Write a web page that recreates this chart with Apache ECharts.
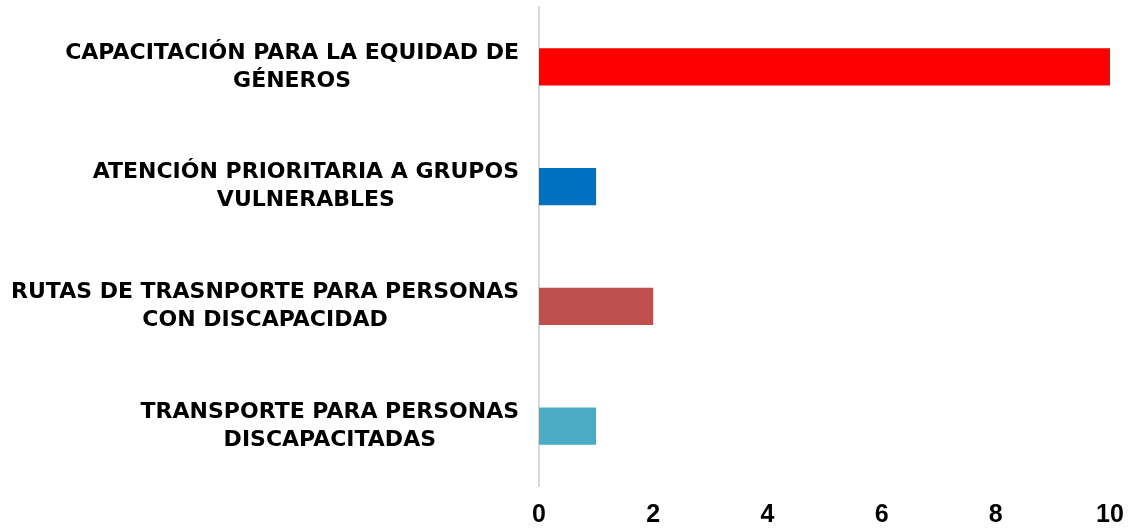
<!DOCTYPE html>
<html>
<head>
<meta charset="utf-8">
<script src="https://cdn.jsdelivr.net/npm/echarts@6/dist/echarts.min.js"></script>
<style>
  html, body { margin: 0; padding: 0; background: #fff; }
  #chart { width: 1134px; height: 529px; }
</style>
</head>
<body>
<div id="chart"></div>
<script>
// categorias de arriba hacia abajo
const categories = [
  'CAPACITACIÓN PARA LA EQUIDAD DE\nGÉNEROS',
  'ATENCIÓN PRIORITARIA A GRUPOS\nVULNERABLES',
  'RUTAS DE TRASNPORTE PARA PERSONAS\nCON DISCAPACIDAD',
  'TRANSPORTE PARA PERSONAS\nDISCAPACITADAS'
];
const values = [10, 1, 2, 1];
const barColors = ['#FF0000', '#0070C0', '#C0504D', '#4BACC6'];

const chart = echarts.init(document.getElementById('chart'));

const labelFont = {
  color: '#000',
  fontFamily: '"DejaVu Sans", sans-serif',
  fontWeight: 'bold',
  fontSize: 22,
  lineHeight: 28
};

chart.setOption({
  animation: false,
  grid: { left: 539, right: 24, top: 7, bottom: 43, containLabel: false },
  xAxis: {
    type: 'value',
    min: 0,
    max: 10,
    interval: 2,
    axisLine: { show: false },
    axisTick: { show: false },
    splitLine: { show: false },
    axisLabel: {
      margin: 17,
      color: '#000',
      fontFamily: '"Liberation Sans Narrow", "Liberation Sans", Arial, sans-serif',
      fontWeight: 'bold',
      fontSize: 25
    }
  },
  yAxis: {
    type: 'category',
    inverse: true,
    data: categories,
    axisLine: { show: true, lineStyle: { color: '#d9d9d9', width: 2 } },
    axisTick: { show: false },
    axisLabel: Object.assign({
      margin: 20,
      align: 'right',
      // cada linea centrada dentro del bloque
      formatter: (v) => v.split('\n').map(l => '{c|' + l + '}').join('\n'),
      rich: { c: Object.assign({ align: 'center' }, labelFont) }
    }, labelFont)
  },
  series: [{
    type: 'bar',
    barWidth: '31%',
    data: values.map((v, i) => ({ value: v, itemStyle: { color: barColors[i] } }))
  }]
});
</script>
</body>
</html>
